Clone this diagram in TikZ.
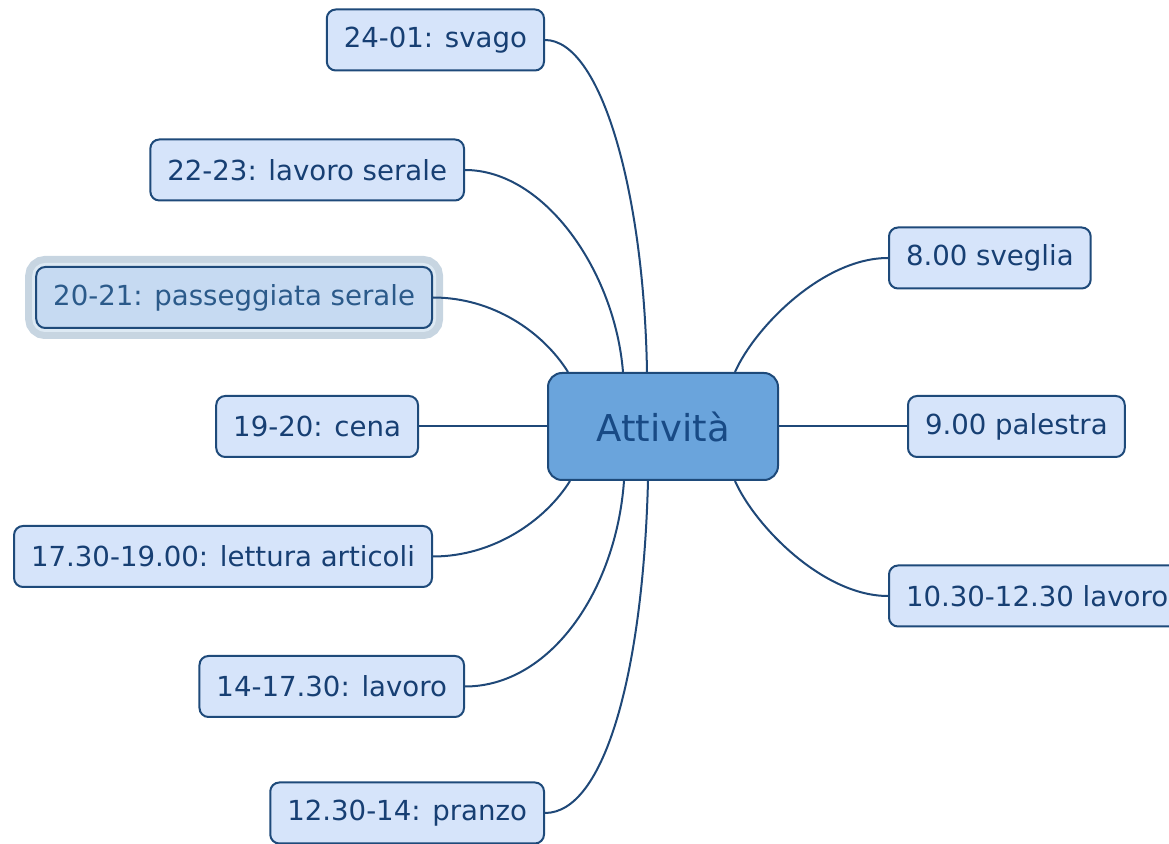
\documentclass[tikz,border=0pt]{standalone}
\usepackage{fontspec}
\setmainfont{DejaVu Sans}
\usepackage{tikz}
\usetikzlibrary{positioning, calc}

\definecolor{itemfill}{RGB}{214,228,250}
\definecolor{itemdraw}{RGB}{30,74,122}
\definecolor{itemtext}{RGB}{23,63,115}
\definecolor{rootfill}{RGB}{106,164,220}
\definecolor{roottext}{RGB}{24,74,133}
\definecolor{selfill}{RGB}{198,218,242}
\definecolor{seltext}{RGB}{43,90,138}
\definecolor{haloout}{RGB}{199,213,225}
\definecolor{haloin}{RGB}{221,233,243}
\definecolor{linkcol}{RGB}{31,72,120}

\tikzset{
  item/.style={draw=itemdraw, line width=1pt, fill=itemfill, text=itemtext,
    rounded corners=4.5pt, minimum height=30.5pt, inner xsep=8.5pt,
    font=\fontsize{13.8}{16}\selectfont},
  root/.style={draw=itemdraw, line width=1pt, fill=rootfill, text=roottext,
    rounded corners=7pt, minimum height=53.5pt, minimum width=115pt,
    font=\fontsize{18.5}{22}\selectfont},
  picked/.style={item, fill=selfill, text=seltext,
    preaction={draw=haloout, line width=11pt},
    preaction={draw=haloin, line width=4pt}},
  link/.style={draw=linkcol, line width=1pt}
}

\begin{document}
\begin{tikzpicture}[x=0.5pt, y=-0.5pt]
  \useasboundingbox (0,0) rectangle (1169,844);

  \node[root] at (663, 426.5) (attivita) {Attività};

  % sinistra
  \node[item, anchor=east] at (545, 40) (svago) {24-01: svago};
  \node[item, anchor=east] at (465, 170) (serale) {22-23: lavoro serale};
  \node[picked, anchor=east] at (433, 297.5) (passeggiata) {20-21: passeggiata serale};
  \node[item, anchor=east] at (419, 426.5) (cena) {19-20: cena};
  \node[item, anchor=east] at (433, 556.5) (lettura) {17.30-19.00: lettura articoli};
  \node[item, anchor=east] at (465, 686.5) (pomeriggio) {14-17.30: lavoro};
  \node[item, anchor=east] at (545, 813) (pranzo) {12.30-14: pranzo};

  % destra
  \node[item, anchor=west] at (888, 258) (sveglia) {8.00 sveglia};
  \node[item, anchor=west] at (907, 426.5) (palestra) {9.00 palestra};
  \node[item, anchor=west] at (888, 596) (mattina) {10.30-12.30 lavoro};

  \draw[link]
    ($(attivita.north)+(-16,0)$) .. controls +(-3,-180) and +(56,0) .. (svago.east)
    ($(attivita.north)+(-40,0)$) .. controls +(-8,-100) and +(80,0) .. (serale.east)
    ($(attivita.north)+(-95,0)$) .. controls +(-25,-40) and +(60,0) .. (passeggiata.east)
    ($(attivita.south)+(-93,0)$) .. controls +(-25,40) and +(60,0) .. (lettura.east)
    ($(attivita.south)+(-39,0)$) .. controls +(-8,110) and +(85,0) .. (pomeriggio.east)
    ($(attivita.south)+(-15,0)$) .. controls +(-5,190) and +(60,0) .. (pranzo.east)
    ($(attivita.north)+(72,0)$) .. controls +(20,-45) and +(-65,0) .. (sveglia.west)
    ($(attivita.south)+(72,0)$) .. controls +(20,45) and +(-65,0) .. (mattina.west);
  \draw[link]
    (attivita) edge (cena)
    (attivita) edge (palestra);
\end{tikzpicture}
\end{document}
